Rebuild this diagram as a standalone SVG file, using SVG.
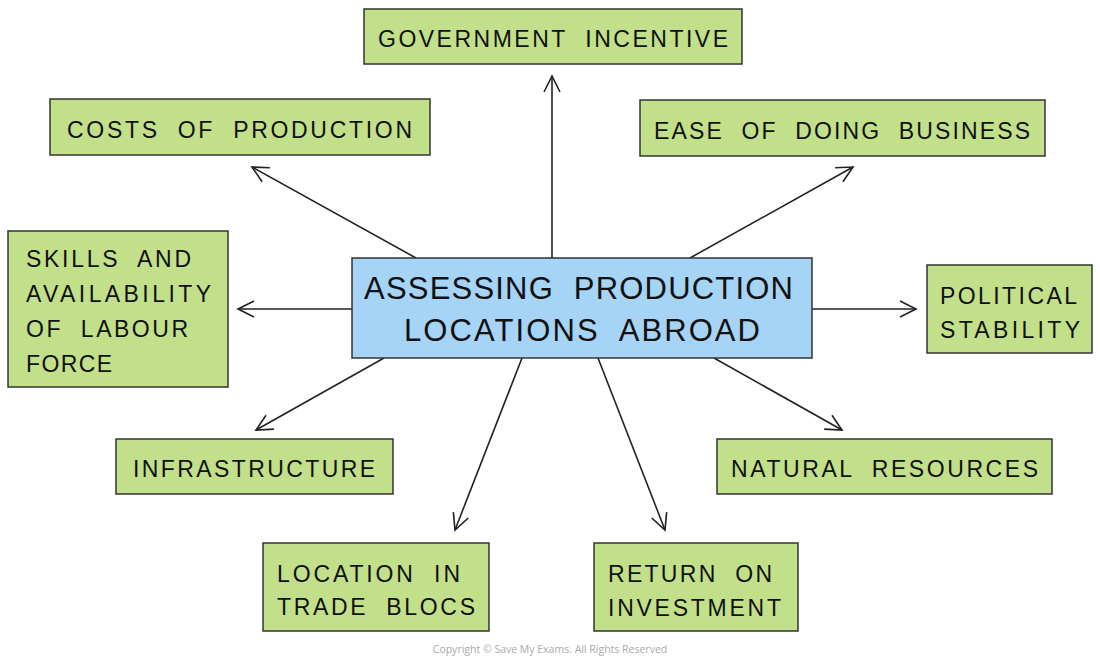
<svg xmlns="http://www.w3.org/2000/svg" width="1100" height="663" viewBox="0 0 1100 663">
<style>
.node rect{fill:#c2e08a;stroke:#333;stroke-width:1.5}
.center rect{fill:#a6d4f7;stroke:#333;stroke-width:1.5}
text{font-family:"Liberation Sans","DejaVu Sans",sans-serif;fill:#111}
.t{font-size:23px;word-spacing:9px}
.ct{font-size:31px;word-spacing:10px}
.conn line{stroke:#222;stroke-width:1.6;fill:none}
.copy{font-family:"Open Sans","Liberation Sans",sans-serif;font-size:10.5px;fill:#aaa;word-spacing:0}
</style>
<defs>
<marker id="ah" markerUnits="userSpaceOnUse" markerWidth="20" markerHeight="20" viewBox="0 0 20 20" refX="18" refY="10" orient="auto">
<path d="M2,2 L18,10 L2,18" fill="none" stroke="#222" stroke-width="1.6"/>
</marker>
</defs>
<rect width="1100" height="663" fill="#fff"/>
<g class="conn">
<line x1="552" y1="258" x2="552" y2="76" marker-end="url(#ah)"/>
<line x1="416" y1="258" x2="252" y2="167" marker-end="url(#ah)"/>
<line x1="690" y1="258" x2="853" y2="167" marker-end="url(#ah)"/>
<line x1="352" y1="309" x2="238" y2="309" marker-end="url(#ah)"/>
<line x1="812" y1="309" x2="916" y2="309" marker-end="url(#ah)"/>
<line x1="384" y1="358" x2="256" y2="430" marker-end="url(#ah)"/>
<line x1="714" y1="358" x2="842" y2="430" marker-end="url(#ah)"/>
<line x1="522" y1="358" x2="455" y2="530" marker-end="url(#ah)"/>
<line x1="598" y1="358" x2="665" y2="530" marker-end="url(#ah)"/>
</g>
<g id="center" class="center">
<rect x="352" y="258" width="460" height="100"/>
<text class="ct" x="364" y="299" textLength="429" lengthAdjust="spacing">ASSESSING PRODUCTION</text>
<text class="ct" x="404" y="341" textLength="356" lengthAdjust="spacing">LOCATIONS ABROAD</text>
</g>
<g id="gov" class="node">
<rect x="364" y="9" width="378" height="55"/>
<text class="t" x="378" y="47" textLength="350" lengthAdjust="spacing">GOVERNMENT INCENTIVE</text>
</g>
<g id="costs" class="node">
<rect x="50" y="99" width="380" height="56"/>
<text class="t" x="67" y="138" textLength="345" lengthAdjust="spacing">COSTS OF PRODUCTION</text>
</g>
<g id="ease" class="node">
<rect x="640" y="100" width="405" height="56"/>
<text class="t" x="654" y="139" textLength="376" lengthAdjust="spacing">EASE OF DOING BUSINESS</text>
</g>
<g id="skills" class="node">
<rect x="8" y="231" width="220" height="156"/>
<text class="t" x="26" y="267" textLength="165" lengthAdjust="spacing">SKILLS AND</text>
<text class="t" x="26" y="302" textLength="185" lengthAdjust="spacing">AVAILABILITY</text>
<text class="t" x="26" y="337" textLength="162" lengthAdjust="spacing">OF LABOUR</text>
<text class="t" x="26" y="372" textLength="86" lengthAdjust="spacing">FORCE</text>
</g>
<g id="political" class="node">
<rect x="927" y="265" width="165" height="88"/>
<text class="t" x="940" y="304" textLength="137" lengthAdjust="spacing">POLITICAL</text>
<text class="t" x="940" y="338" textLength="140" lengthAdjust="spacing">STABILITY</text>
</g>
<g id="infra" class="node">
<rect x="116" y="439" width="277" height="55"/>
<text class="t" x="133" y="477" textLength="242" lengthAdjust="spacing">INFRASTRUCTURE</text>
</g>
<g id="natural" class="node">
<rect x="717" y="439" width="335" height="55"/>
<text class="t" x="731" y="477" textLength="307" lengthAdjust="spacing">NATURAL RESOURCES</text>
</g>
<g id="location" class="node">
<rect x="263" y="543" width="226" height="88"/>
<text class="t" x="277" y="582" textLength="183" lengthAdjust="spacing">LOCATION IN</text>
<text class="t" x="277" y="615" textLength="198" lengthAdjust="spacing">TRADE BLOCS</text>
</g>
<g id="return" class="node">
<rect x="594" y="543" width="204" height="88"/>
<text class="t" x="608" y="582" textLength="164" lengthAdjust="spacing">RETURN ON</text>
<text class="t" x="608" y="616" textLength="173" lengthAdjust="spacing">INVESTMENT</text>
</g>
<text class="copy" x="550" y="653" text-anchor="middle">Copyright © Save My Exams. All Rights Reserved</text>
</svg>
